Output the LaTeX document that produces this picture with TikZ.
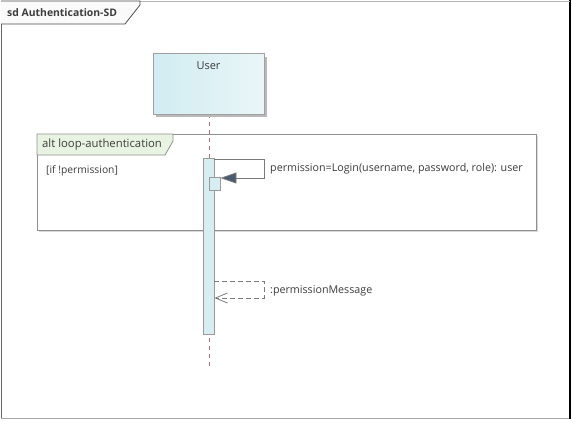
\documentclass[tikz,border=0pt]{standalone}
\usepackage{fontspec}
\setmainfont{Open Sans}
\usetikzlibrary{arrows.meta,calc}
\definecolor{framegray}{HTML}{A0A0A0}
\definecolor{lifered}{HTML}{B07070}
\definecolor{actfill}{HTML}{D6EEF2}
\definecolor{headleft}{HTML}{D2ECF1}
\definecolor{headright}{HTML}{E9F6F8}
\definecolor{actline}{HTML}{9A9A9A}
\definecolor{altfill}{HTML}{E9F3E1}
\definecolor{msgline}{HTML}{7A7A7A}
\definecolor{arrowfill}{HTML}{4C5A70}
\definecolor{txt}{HTML}{3C3C3C}
\tikzset{
  lifeline/.style={draw=lifered, dash pattern=on 4pt off 4pt, line width=0.8pt},
  actbar/.style={draw=actline, fill=actfill, line width=0.8pt},
  msg/.style={draw=msgline, line width=0.8pt},
  reply/.style={draw=msgline, line width=0.8pt, dash pattern=on 5pt off 3pt},
  lbl/.style={font=\fontsize{10.7}{12}\selectfont, text=txt, inner sep=0pt, anchor=west},
}
\begin{document}
\begin{tikzpicture}[x=1pt,y=-1pt]
\useasboundingbox (0,0) rectangle (572,420);
\fill[white] (0,0) rectangle (572,420);

% outer sd frame
\draw[draw=gray!80!black, line width=0.8pt] (1,1) -- (1,418);
\draw[draw=gray!70, line width=1pt] (1,418) -- (570,418);
\draw[draw=black, line width=1.6pt] (570,0) -- (570,419);
\draw[draw=gray!60, line width=0.8pt] (1,1) -- (570,1);
\filldraw[draw=gray!60!black, fill=gray!4, line width=0.8pt]
  (1,1) -- (140,1) -- (140,5) -- (125,24) -- (1,24);
\node[lbl, font=\fontsize{10.4}{12}\selectfont\bfseries] (sdtitle) at (7,13) {sd Authentication-SD};

% lifeline of User
\coordinate (lltop) at (209,114);
\coordinate (llbot) at (209,368);
\draw[lifeline] (lltop) -- (llbot);

% User head box with drop shadow
\fill[gray!55] (156,57) rectangle (267,117);
\shade[left color=headleft, right color=headright] (153,54) rectangle (264,114);
\node[draw=framegray, line width=1pt, minimum width=111pt, minimum height=60pt, inner sep=0pt] (user) at (208.5,84) {};
\node[font=\fontsize{11}{12}\selectfont, text=txt] (userlbl) at (208.5,66) {User};

% alt combined fragment
\draw[draw=framegray!90!black, line width=1pt] (37,134) rectangle (536,230);
\draw[draw=gray!30, line width=1pt] (39,231.5) -- (537.5,231.5) -- (537.5,136);
\filldraw[draw=framegray!90!black, fill=altfill, line width=0.8pt]
  (37,134) -- (173,134) -- (173,141) -- (165,155) -- (37,155) -- cycle;
\node[lbl, font=\fontsize{11.3}{12}\selectfont] (altlbl) at (42,145) {alt loop-authentication};
\node[lbl, font=\fontsize{10.3}{12}\selectfont] (guard) at (46,171) {[if !permission]};

% activation bars
\node[actbar, minimum width=11pt, minimum height=176pt, inner sep=0pt] (act) at (208.5,246) {};
\node[actbar, minimum width=11pt, minimum height=13pt, inner sep=0pt] (act2) at (214.5,183.5) {};

% self call
\coordinate (c1) at (264,159);
\coordinate (c2) at (264,178);
\draw[msg, -{Triangle[length=16pt,width=11pt,fill=arrowfill]}]
  (act.east |- c1) -- (c1) -- (c2) -- (act2.east |- c2);
\node[lbl] (calllbl) at (270,169) {permission=Login(username, password, role): user};

% reply
\coordinate (r1) at (264,281);
\coordinate (r2) at (264,298);
\draw[reply, -{Straight Barb[length=12pt,width=10pt]}]
  (act.east |- r1) -- (r1) -- (r2) -- (act.east |- r2);
\node[lbl] (replylbl) at (270,291) {:permissionMessage};
\end{tikzpicture}
\end{document}
